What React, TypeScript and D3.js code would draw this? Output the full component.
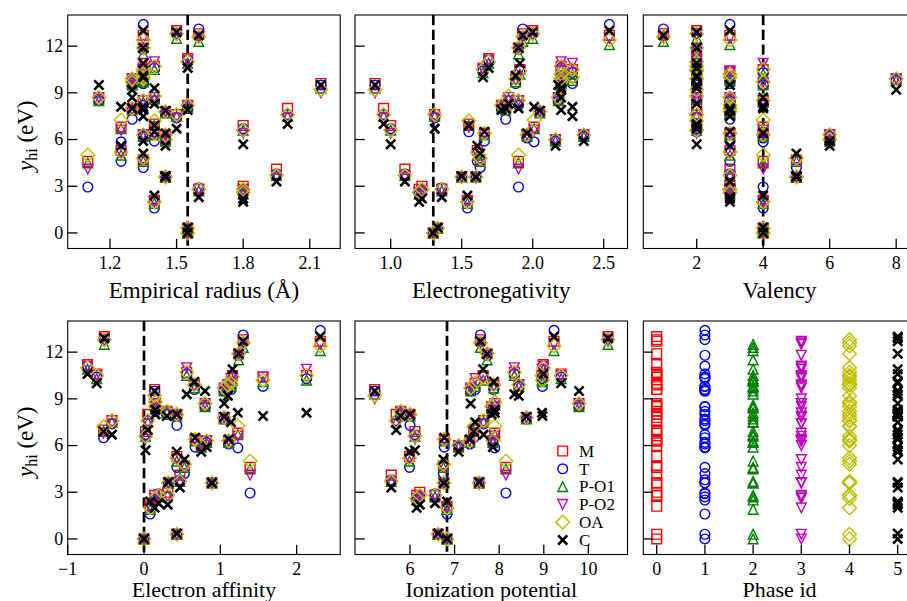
import React from 'react';
import * as d3 from 'd3';

// Dopant elements (host: Hf) and their atomic descriptors
const elements = ['Hf', 'Zr', 'Ti', 'Sc', 'Y', 'Gd', 'La', 'Ba', 'Sr', 'Ca', 'Mg', 'Mn', 'Zn', 'Cd', 'Hg', 'Ag', 'Au', 'Cu', 'Ni', 'Co', 'Pd', 'Fe', 'Ga', 'In', 'Al', 'Ge', 'Si', 'Sn', 'Sb', 'Mo', 'W', 'V', 'Nb', 'Ta', 'Cr', 'Ru', 'Os', 'Rh', 'Ir', 'Pt', 'Re', 'As'];
const empiricalRadius = [1.55, 1.55, 1.40, 1.60, 1.80, 1.80, 1.95, 2.15, 2.00, 1.80, 1.50, 1.40, 1.35, 1.55, 1.50, 1.60, 1.35, 1.35, 1.35, 1.35, 1.40, 1.40, 1.30, 1.55, 1.25, 1.25, 1.10, 1.45, 1.45, 1.45, 1.35, 1.35, 1.45, 1.45, 1.40, 1.30, 1.30, 1.35, 1.35, 1.35, 1.35, 1.15];
const electronegativity = [1.30, 1.33, 1.54, 1.36, 1.22, 1.20, 1.10, 0.89, 0.95, 1.00, 1.31, 1.55, 1.65, 1.69, 2.00, 1.93, 2.54, 1.90, 1.91, 1.88, 2.20, 1.83, 1.81, 1.78, 1.61, 2.01, 1.90, 1.96, 2.05, 2.16, 2.36, 1.63, 1.60, 1.50, 1.66, 2.20, 2.20, 2.28, 2.20, 2.28, 1.90, 2.18];
const valency = [4, 4, 4, 3, 3, 3, 3, 2, 2, 2, 2, 2, 2, 2, 2, 1, 3, 2, 2, 2, 2, 2, 3, 3, 3, 4, 4, 4, 3, 6, 6, 5, 5, 5, 3, 4, 8, 3, 3, 4, 4, 3];
const electronAffinity = [0.00, 0.43, 0.08, 0.19, 0.31, 0.14, 0.47, 0.14, 0.05, 0.02, -0.42, -0.53, -0.62, -0.74, -0.52, 1.30, 2.31, 1.24, 1.16, 0.66, 0.56, 0.15, 0.43, 0.30, 0.43, 1.23, 1.39, 1.11, 1.05, 0.75, 0.82, 0.53, 0.89, 0.32, 0.67, 1.05, 1.10, 1.14, 1.56, 2.13, 0.15, 0.80];
const ionizationPotential = [6.83, 6.63, 6.83, 6.56, 6.22, 6.15, 5.58, 5.21, 5.69, 6.11, 7.65, 7.43, 9.39, 8.99, 10.44, 7.58, 9.23, 7.73, 7.64, 7.88, 8.34, 7.90, 6.00, 5.79, 5.99, 7.90, 8.15, 7.34, 8.61, 7.09, 7.86, 6.75, 6.76, 7.55, 6.77, 7.36, 8.44, 7.46, 8.97, 8.96, 7.83, 9.79];

// y_hi (eV) for each phase
const yM = [0, 0.3, 2.1, 2.8, 3.0, 2.8, 4.1, 9.6, 8.0, 6.9, 7.6, 7.0, 10.6, 11.2, 13.0, 12.8, 12.7, 11.9, 10.5, 9.9, 10.7, 8.7, 8.0, 8.2, 5.3, 6.8, 4.6, 6.3, 7.8, 6.0, 6.3, 4.7, 3.6, 3.6, 6.4, 9.6, 9.9, 10.0, 10.4, 10.5, 8.5, 8.6];
const yT = [0, 0.3, 1.6, 2.9, 2.7, 2.5, 3.8, 9.5, 7.6, 6.7, 7.4, 6.5, 10.4, 11.1, 12.8, 13.1, 13.4, 11.8, 10.4, 9.6, 10.6, 8.5, 7.3, 8.0, 4.6, 5.85, 2.95, 6.1, 7.7, 5.9, 6.2, 4.2, 3.6, 3.6, 5.9, 9.5, 9.8, 9.6, 9.8, 10.3, 8.2, 8.5];
const yPO1 = [0, 0.3, 1.9, 2.7, 2.8, 2.5, 3.7, 9.3, 7.5, 6.6, 7.5, 6.9, 10.3, 10.9, 12.5, 12.3, 12.1, 11.5, 10.2, 9.7, 10.5, 8.6, 7.9, 8.1, 5.0, 6.7, 4.5, 6.2, 7.7, 5.9, 6.2, 4.6, 3.6, 3.6, 6.3, 9.5, 9.8, 9.8, 10.1, 10.2, 8.4, 8.5];
const yPO2 = [0, 0.3, 2.0, 2.8, 2.7, 2.6, 3.6, 9.0, 7.4, 6.4, 7.4, 6.8, 10.5, 11.1, 12.7, 12.6, 12.5, 11.8, 10.4, 9.8, 11.0, 8.7, 7.9, 8.1, 5.1, 6.6, 4.1, 6.3, 7.8, 6.0, 6.3, 4.6, 3.6, 3.6, 6.3, 9.7, 9.9, 10.3, 10.4, 10.9, 8.5, 8.7];
const yOA = [0, 0.3, 2.0, 2.8, 2.8, 2.6, 3.7, 9.2, 7.6, 6.6, 7.6, 7.2, 10.5, 11.0, 12.8, 12.6, 12.4, 11.9, 10.4, 9.9, 10.7, 8.8, 8.0, 8.2, 5.2, 7.25, 5.0, 6.3, 7.8, 6.0, 6.3, 4.8, 3.6, 3.6, 6.4, 9.7, 9.9, 10.0, 10.2, 10.5, 8.5, 8.7];
const yC: (number | null)[] = [0, 0.35, 2.4, 2.3, 2.2, 2.0, 3.3, 9.5, 7.0, 5.7, 6.7, 6.9, 10.0, 10.6, 12.9, 12.7, 13.0, 11.9, 10.9, 10.1, 9.3, 8.3, 8.0, 7.9, 5.6, 8.1, null, 6.4, 7.85, 5.6, 5.9, 5.1, 3.6, 3.65, 6.5, 8.7, 9.2, 7.5, 7.9, 8.1, 8.0, 9.5];

const yTicks = [0, 3, 6, 9, 12];
const radiusTicks = [1.2, 1.5, 1.8, 2.1];
const enTicks = [1.0, 1.5, 2.0, 2.5];
const valencyTicks = [2, 4, 6, 8];
const eaTicks = [-1, 0, 1, 2];
const ipTicks = [6, 7, 8, 9, 10];
const phaseTicks = [0, 1, 2, 3, 4, 5];

const FONT = '"Liberation Serif", "Times New Roman", serif';
const W = 907;
const H = 601;
const COL_LEFT = [67.7, 355, 643.3];
const ROW_TOP = [15, 321];
const PW = 272.5;
const PH = 233.5;
const MS = 9.7;

type Shape = 'square' | 'circle' | 'triUp' | 'triDown' | 'diamond' | 'cross';

function shapePath(shape: Shape): string {
  const h = MS / 2;
  switch (shape) {
    case 'square':
      return `M${-h},${-h}H${h}V${h}H${-h}Z`;
    case 'circle':
      return `M${h},0A${h},${h} 0 1,1 ${-h},0A${h},${h} 0 1,1 ${h},0Z`;
    case 'triUp':
      return `M0,${-h}L${h},${h}L${-h},${h}Z`;
    case 'triDown':
      return `M0,${h}L${h},${-h}L${-h},${-h}Z`;
    case 'diamond': {
      const d = MS * Math.SQRT1_2;
      return `M0,${-d}L${d},0L0,${d}L${-d},0Z`;
    }
    case 'cross': {
      const c = h * 0.95;
      return `M${-c},${-c}L${c},${c}M${-c},${c}L${c},${-c}`;
    }
  }
  return '';
}

interface Series {
  name: string;
  values: (number | null)[];
  color: string;
  shape: Shape;
  width: number;
}

const series: Series[] = [
  { name: 'M', values: yM, color: '#ff0000', shape: 'square', width: 1.4 },
  { name: 'T', values: yT, color: '#0000ff', shape: 'circle', width: 1.4 },
  { name: 'P-O1', values: yPO1, color: '#008000', shape: 'triUp', width: 1.4 },
  { name: 'P-O2', values: yPO2, color: '#bf00bf', shape: 'triDown', width: 1.4 },
  { name: 'OA', values: yOA, color: '#bfbf00', shape: 'diamond', width: 1.4 },
  { name: 'C', values: yC, color: '#000000', shape: 'cross', width: 2.6 },
];

interface Panel {
  id: string;
  x: number[] | null;
  label: string;
  domain: [number, number];
  ticks: number[];
  fmt: (v: number) => string;
  ref: number | null;
  row: number;
  col: number;
  legend?: boolean;
}

const f1 = d3.format('.1f');
const fd = d3.format('d');

const panels: Panel[] = [
  { id: 'radius', x: empiricalRadius, label: 'Empirical radius (Å)', domain: [1.0095, 2.237], ticks: radiusTicks, fmt: f1, ref: empiricalRadius[0], row: 0, col: 0 },
  { id: 'en', x: electronegativity, label: 'Electronegativity', domain: [0.7486, 2.6676], ticks: enTicks, fmt: f1, ref: electronegativity[0], row: 0, col: 1 },
  { id: 'val', x: valency, label: 'Valency', domain: [0.394, 8.59], ticks: valencyTicks, fmt: fd, ref: valency[0], row: 0, col: 2 },
  { id: 'ea', x: electronAffinity, label: 'Electron affinity', domain: [-1.0, 2.571], ticks: eaTicks, fmt: fd, ref: electronAffinity[0], row: 1, col: 0 },
  { id: 'ip', x: ionizationPotential, label: 'Ionization potential', domain: [4.767, 10.877], ticks: ipTicks, fmt: fd, ref: ionizationPotential[0], row: 1, col: 1, legend: true },
  { id: 'phase', x: null, label: 'Phase id', domain: [-0.278, 5.375], ticks: phaseTicks, fmt: fd, ref: null, row: 1, col: 2 },
];

function Marker({ s, x, y }: { s: Series; x: number; y: number }) {
  return (
    <path
      d={shapePath(s.shape)}
      transform={`translate(${x},${y})`}
      fill="none"
      stroke={s.color}
      strokeWidth={s.width}
    />
  );
}

function PanelView({ p }: { p: Panel }) {
  const left = COL_LEFT[p.col];
  const top = ROW_TOP[p.row];
  const xs = d3.scaleLinear().domain(p.domain).range([left, left + PW]);
  const ys = d3.scaleLinear().domain([-1, 14]).range([top + PH, top]);
  const bottom = top + PH;
  const clipId = `clip-${p.id}`;

  const points: { s: Series; x: number; y: number; k: string }[] = [];
  series.forEach((s, si) => {
    s.values.forEach((v, i) => {
      if (v === null) return;
      const xv = p.x ? p.x[i] : si;
      points.push({ s, x: xs(xv), y: ys(v), k: `${s.name}-${elements[i]}` });
    });
  });

  // axis title below the tick labels; the lower row is nudged to stay inside the figure
  const lastRow = p.row === 1;
  const labelY = lastRow ? H - 4 : bottom + 49;
  const labelSize = lastRow ? 22 : 23;

  return (
    <g>
      <defs>
        <clipPath id={clipId}>
          <rect x={left} y={top} width={PW} height={PH} />
        </clipPath>
      </defs>
      <g clipPath={`url(#${clipId})`}>
        {p.ref !== null && (
          <line
            x1={xs(p.ref)}
            x2={xs(p.ref)}
            y1={top}
            y2={bottom}
            stroke="#000"
            strokeWidth={2.7}
            strokeDasharray="10.3 4.4"
          />
        )}
        {points.map((pt) => (
          <Marker key={pt.k} s={pt.s} x={pt.x} y={pt.y} />
        ))}
      </g>
      {/* ticks pointing inward */}
      {yTicks.map((t) => (
        <line key={`yt${t}`} x1={left} x2={left + 9.7} y1={ys(t)} y2={ys(t)} stroke="#000" strokeWidth={1.3} />
      ))}
      {p.ticks.map((t) => (
        <line key={`xt${t}`} x1={xs(t)} x2={xs(t)} y1={bottom} y2={bottom - 9.7} stroke="#000" strokeWidth={1.3} />
      ))}
      <rect x={left} y={top} width={PW} height={PH} fill="none" stroke="#000" strokeWidth={1.1} />
      {p.ticks.map((t) => (
        <text key={`xl${t}`} x={xs(t)} y={bottom + 20} textAnchor="middle" fontSize={18} fontFamily={FONT}>
          {p.fmt(t)}
        </text>
      ))}
      {p.col === 0 &&
        yTicks.map((t) => (
          <text key={`yl${t}`} x={left - 4.5} y={ys(t)} dy="0.33em" textAnchor="end" fontSize={18} fontFamily={FONT}>
            {t}
          </text>
        ))}
      <text x={left + PW / 2} y={labelY} textAnchor="middle" fontSize={labelSize} fontFamily={FONT}>
        {p.label}
      </text>
      {p.col === 0 && (
        <text transform={`translate(33,${top + PH / 2 + 4}) rotate(-90)`} textAnchor="middle" fontSize={23} fontFamily={FONT}>
          <tspan fontStyle="italic">y</tspan>
          <tspan fontSize={16} dy={4}>hi</tspan>
          <tspan dy={-4}> (eV)</tspan>
        </text>
      )}
      {p.legend &&
        series.map((s, i) => {
          const ly = top + 130 + i * 17.8;
          return (
            <g key={`lg${s.name}`}>
              <Marker s={s} x={left + 207.7} y={ly} />
              <text x={left + 224} y={ly} dy="0.34em" fontSize={17} fontFamily={FONT}>
                {s.name}
              </text>
            </g>
          );
        })}
    </g>
  );
}

export default function App() {
  return (
    <svg
      width={W}
      height={H}
      viewBox={`0 0 ${W} ${H}`}
      style={{ position: 'absolute', left: 0, top: 0, background: '#fff' }}
    >
      <rect x={0} y={0} width={W} height={H} fill="#fff" />
      {panels.map((p) => (
        <PanelView key={p.id} p={p} />
      ))}
    </svg>
  );
}
